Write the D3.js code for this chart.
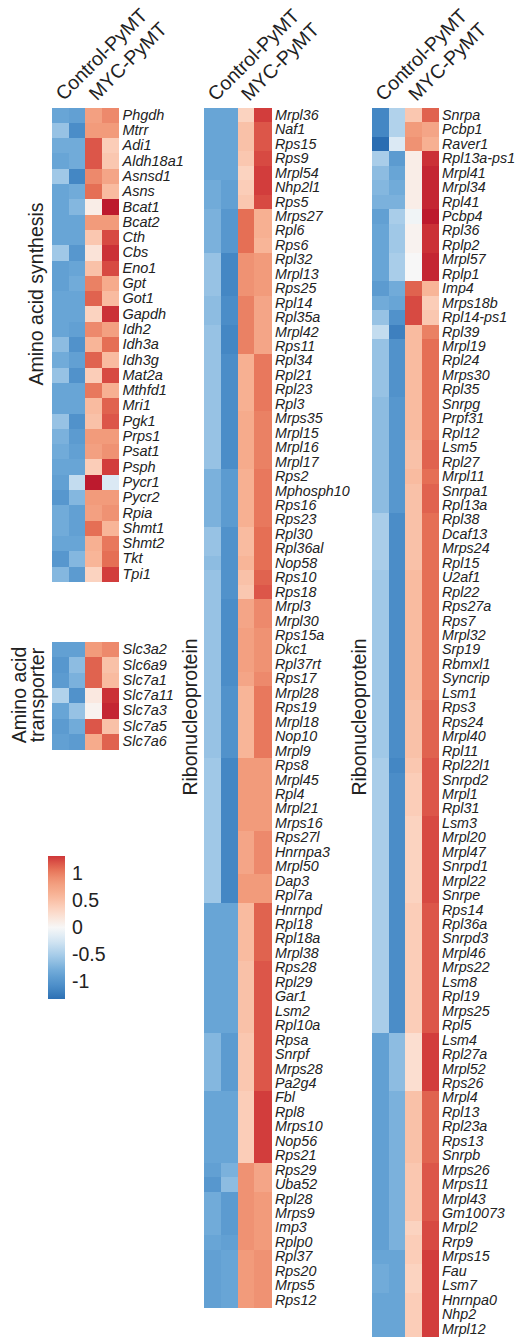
<!DOCTYPE html>
<html><head><meta charset="utf-8">
<script src="https://cdn.jsdelivr.net/npm/d3@7"></script>
<style>
html,body{margin:0;padding:0;background:#fff;}
svg{display:block;font-family:"Liberation Sans",Arial,Helvetica,sans-serif;}
</style></head>
<body>
<svg id="chart" width="516" height="1339"></svg>
<script>
// ---------- DATA ----------
const groups = ["Control-PyMT", "MYC-PyMT"];
const samples = ["Ctrl1", "Ctrl2", "MYC1", "MYC2"];
const legendTicks = [1, 0.5, 0, -0.5, -1];

const synthGenes = ["Phgdh","Mtrr","Adi1","Aldh18a1","Asnsd1","Asns","Bcat1","Bcat2","Cth","Cbs","Eno1","Gpt","Got1","Gapdh","Idh2","Idh3a","Idh3g","Mat2a","Mthfd1","Mri1","Pgk1","Prps1","Psat1","Psph","Pycr1","Pycr2","Rpia","Shmt1","Shmt2","Tkt","Tpi1"];
const synthValues = [
[-0.85,-0.9,0.8,0.95],[-0.6,-1.1,0.85,0.85],[-0.8,-0.8,1.2,0.4],[-0.85,-0.8,1.2,0.45],
[-0.55,-1.15,0.95,0.75],[-0.85,-0.8,1.1,0.55],[-0.85,-0.7,0.1,1.45],[-0.85,-0.85,0.85,0.85],
[-0.85,-0.85,0.45,1.25],[-0.55,-1.0,0.2,1.35],[-0.9,-0.85,0.5,1.25],[-0.9,-0.8,1.0,0.7],
[-0.85,-0.85,1.15,0.55],[-0.85,-0.85,0.35,1.35],[-0.85,-0.9,0.95,0.8],[-0.65,-1.05,0.6,1.1],
[-0.8,-0.9,1.15,0.55],[-0.6,-1.05,0.4,1.25],[-0.85,-0.85,1.05,0.65],[-0.85,-0.85,0.55,1.15],
[-0.6,-1.05,0.5,1.2],[-0.75,-0.95,0.85,0.85],[-0.8,-0.9,0.8,0.9],[-0.85,-0.85,0.4,1.3],
[-0.9,-0.35,1.45,-0.2],[-1.0,-0.7,0.85,0.85],[-0.8,-0.9,0.8,0.9],[-0.8,-0.9,1.1,0.6],
[-0.85,-0.85,0.65,1.05],[-1.0,-0.7,0.6,1.1],[-0.7,-0.95,0.35,1.3]
];

const transGenes = ["Slc3a2","Slc6a9","Slc7a1","Slc7a11","Slc7a3","Slc7a5","Slc7a6"];
const transValues = [
[-0.9,-0.9,0.85,0.95],[-1.0,-0.65,1.15,0.5],[-0.95,-0.75,1.15,0.55],[-0.45,-1.05,0.15,1.35],
[-0.85,-0.6,0.05,1.4],[-0.95,-0.8,1.2,0.5],[-0.9,-0.95,0.7,1.15]
];

const rnpGenesA = ["Mrpl36","Naf1","Rps15","Rps9","Mrpl54","Nhp2l1","Rps5","Mrps27","Rpl6","Rps6","Rpl32","Mrpl13","Rps25","Rpl14","Rpl35a","Mrpl42","Rps11","Rpl34","Rpl21","Rpl23","Rpl3","Mrps35","Mrpl15","Mrpl16","Mrpl17","Rps2","Mphosph10","Rps16","Rps23","Rpl30","Rpl36al","Nop58","Rps10","Rps18","Mrpl3","Mrpl30","Rps15a","Dkc1","Rpl37rt","Rps17","Mrpl28","Rps19","Mrpl18","Nop10","Mrpl9","Rps8","Mrpl45","Rpl4","Mrpl21","Mrps16","Rps27l","Hnrnpa3","Mrpl50","Dap3","Rpl7a","Hnrnpd","Rpl18","Rpl18a","Mrpl38","Rps28","Rpl29","Gar1","Lsm2","Rpl10a","Rpsa","Snrpf","Mrps28","Pa2g4","Fbl","Rpl8","Mrps10","Nop56","Rps21","Rps29","Uba52","Rpl28","Mrps9","Imp3","Rplp0","Rpl37","Rps20","Mrps5","Rps12"];
const rnpValuesA = [
[-0.85,-0.85,0.35,1.3],[-0.85,-0.85,0.5,1.2],[-0.85,-0.85,0.5,1.2],[-0.85,-0.85,0.45,1.25],
[-0.85,-0.85,0.35,1.3],[-0.8,-0.9,0.4,1.3],[-0.8,-0.9,0.45,1.25],[-0.75,-1.0,1.1,0.65],
[-0.75,-1.0,1.1,0.65],[-0.75,-1.0,1.1,0.6],[-0.6,-1.15,0.9,0.85],[-0.6,-1.15,0.9,0.85],
[-0.6,-1.15,0.9,0.85],[-0.65,-1.1,1.0,0.75],[-0.65,-1.1,1.0,0.75],[-0.6,-1.15,1.0,0.75],
[-0.6,-1.15,1.0,0.75],[-0.6,-1.1,0.65,1.05],[-0.6,-1.1,0.65,1.05],[-0.6,-1.1,0.65,1.05],
[-0.6,-1.1,0.65,1.05],[-0.6,-1.1,0.7,1.0],[-0.6,-1.1,0.7,1.0],[-0.6,-1.1,0.7,1.0],
[-0.6,-1.1,0.7,1.0],[-0.75,-0.95,0.65,1.05],[-0.75,-0.95,0.65,1.05],[-0.75,-0.95,0.65,1.05],
[-0.75,-0.95,0.65,1.05],[-0.6,-1.05,0.55,1.1],[-0.6,-1.05,0.55,1.1],[-0.65,-1.05,0.6,1.1],
[-0.6,-1.05,0.5,1.15],[-0.6,-1.05,0.45,1.2],[-0.6,-1.1,0.75,0.95],[-0.6,-1.1,0.75,0.95],
[-0.6,-1.1,0.8,0.9],[-0.6,-1.1,0.8,0.9],[-0.6,-1.1,0.8,0.9],[-0.6,-1.1,0.75,0.95],
[-0.6,-1.05,0.6,1.05],[-0.6,-1.05,0.6,1.05],[-0.6,-1.05,0.6,1.05],[-0.6,-1.05,0.6,1.05],
[-0.6,-1.05,0.6,1.05],[-0.55,-1.15,0.85,0.85],[-0.55,-1.15,0.85,0.85],[-0.55,-1.15,0.85,0.85],
[-0.55,-1.15,0.85,0.85],[-0.55,-1.15,0.85,0.85],[-0.55,-1.15,0.75,0.95],[-0.55,-1.15,0.75,0.95],
[-0.55,-1.15,0.75,0.95],[-0.55,-1.15,0.85,0.85],[-0.55,-1.15,0.85,0.85],[-0.85,-0.85,0.55,1.15],
[-0.85,-0.85,0.55,1.15],[-0.85,-0.85,0.55,1.15],[-0.85,-0.85,0.55,1.15],[-0.85,-0.85,0.5,1.2],
[-0.85,-0.85,0.5,1.2],[-0.85,-0.85,0.5,1.2],[-0.85,-0.85,0.5,1.2],[-0.85,-0.85,0.5,1.2],
[-0.7,-0.95,0.45,1.2],[-0.7,-0.95,0.45,1.2],[-0.7,-0.95,0.45,1.2],[-0.7,-0.95,0.45,1.2],
[-0.85,-0.85,0.4,1.3],[-0.85,-0.85,0.4,1.3],[-0.85,-0.85,0.4,1.3],[-0.85,-0.85,0.4,1.3],
[-0.85,-0.85,0.4,1.3],[-0.9,-0.75,0.9,0.75],[-1.0,-0.65,0.9,0.75],[-0.8,-0.95,0.9,0.85],
[-0.8,-0.95,0.9,0.85],[-0.8,-0.95,0.9,0.85],[-0.85,-0.9,0.9,0.85],[-0.9,-0.85,0.85,0.9],
[-0.9,-0.85,0.85,0.9],[-0.9,-0.85,0.85,0.9],[-0.9,-0.85,0.85,0.9]
];

const rnpGenesB = ["Snrpa","Pcbp1","Raver1","Rpl13a-ps1","Mrpl41","Mrpl34","Rpl41","Pcbp4","Rpl36","Rplp2","Mrpl57","Rplp1","Imp4","Mrps18b","Rpl14-ps1","Rpl39","Mrpl19","Rpl24","Mrps30","Rpl35","Snrpg","Prpf31","Rpl12","Lsm5","Rpl27","Mrpl11","Snrpa1","Rpl13a","Rpl38","Dcaf13","Mrps24","Rpl15","U2af1","Rpl22","Rps27a","Rps7","Mrpl32","Srp19","Rbmxl1","Syncrip","Lsm1","Rps3","Rps24","Mrpl40","Rpl11","Rpl22l1","Snrpd2","Mrpl1","Rpl31","Lsm3","Mrpl20","Mrpl47","Snrpd1","Mrpl22","Snrpe","Rps14","Rpl36a","Snrpd3","Mrpl46","Mrps22","Lsm8","Rpl19","Mrps25","Rpl5","Lsm4","Rpl27a","Mrpl52","Rps26","Mrpl4","Rpl13","Rpl23a","Rps13","Snrpb","Mrps26","Mrps11","Mrpl43","Gm10073","Mrpl2","Rrp9","Mrps15","Fau","Lsm7","Hnrnpa0","Nhp2","Mrpl12"];
const rnpValuesB = [
[-1.15,-0.45,0.45,1.15],[-1.15,-0.45,0.85,0.75],[-1.35,-0.2,0.9,0.65],[-0.5,-0.95,0.1,1.35],
[-0.65,-0.85,0.1,1.4],[-0.7,-0.8,0.1,1.4],[-0.75,-0.75,0.1,1.4],[-0.9,-0.5,-0.05,1.45],
[-0.85,-0.55,0.05,1.35],[-0.85,-0.55,0.05,1.35],[-0.85,-0.5,0.0,1.4],[-0.85,-0.5,0.0,1.4],
[-0.95,-0.8,1.15,0.6],[-0.8,-0.85,1.25,0.4],[-0.6,-1.05,1.25,0.45],[-0.35,-1.2,0.55,1.0],
[-0.6,-1.05,0.55,1.1],[-0.6,-1.05,0.55,1.1],[-0.6,-1.05,0.55,1.1],[-0.6,-1.05,0.55,1.1],
[-0.65,-1.0,0.55,1.1],[-0.65,-1.0,0.55,1.1],[-0.65,-1.0,0.55,1.1],[-0.65,-1.0,0.5,1.15],
[-0.65,-1.0,0.5,1.15],[-0.65,-1.0,0.55,1.1],[-0.65,-1.0,0.5,1.15],[-0.65,-1.0,0.5,1.15],
[-0.5,-1.1,0.5,1.1],[-0.5,-1.1,0.5,1.1],[-0.5,-1.1,0.5,1.1],[-0.5,-1.1,0.5,1.1],
[-0.55,-1.1,0.55,1.1],[-0.55,-1.1,0.55,1.1],[-0.55,-1.1,0.55,1.1],[-0.55,-1.1,0.55,1.1],
[-0.55,-1.1,0.55,1.1],[-0.55,-1.1,0.55,1.1],[-0.55,-1.1,0.55,1.1],[-0.55,-1.1,0.55,1.1],
[-0.55,-1.1,0.55,1.1],[-0.55,-1.1,0.5,1.15],[-0.55,-1.1,0.5,1.15],[-0.55,-1.1,0.5,1.15],
[-0.55,-1.1,0.5,1.15],[-0.5,-1.15,0.45,1.2],[-0.5,-1.1,0.4,1.2],[-0.5,-1.1,0.4,1.2],
[-0.5,-1.1,0.4,1.2],[-0.5,-1.1,0.35,1.25],[-0.5,-1.1,0.35,1.25],[-0.5,-1.1,0.35,1.25],
[-0.5,-1.1,0.35,1.25],[-0.5,-1.1,0.35,1.25],[-0.5,-1.1,0.35,1.25],[-0.5,-1.1,0.4,1.2],
[-0.5,-1.1,0.4,1.2],[-0.5,-1.1,0.4,1.2],[-0.5,-1.1,0.4,1.2],[-0.5,-1.1,0.4,1.2],
[-0.5,-1.1,0.4,1.2],[-0.5,-1.1,0.4,1.2],[-0.5,-1.1,0.4,1.2],[-0.5,-1.1,0.4,1.2],
[-0.9,-0.65,0.25,1.3],[-0.9,-0.65,0.25,1.3],[-0.9,-0.65,0.25,1.3],[-0.9,-0.65,0.25,1.3],
[-0.9,-0.75,0.5,1.15],[-0.9,-0.75,0.5,1.15],[-0.9,-0.75,0.5,1.15],[-0.9,-0.75,0.5,1.15],
[-0.9,-0.75,0.5,1.15],[-0.9,-0.75,0.45,1.2],[-0.9,-0.75,0.45,1.2],[-0.9,-0.75,0.45,1.2],
[-0.9,-0.75,0.45,1.2],[-0.9,-0.75,0.35,1.25],[-0.9,-0.75,0.4,1.25],[-0.85,-0.85,0.4,1.3],
[-0.8,-0.85,0.35,1.3],[-0.8,-0.85,0.35,1.3],[-0.85,-0.85,0.4,1.3],[-0.85,-0.85,0.4,1.3],
[-0.85,-0.85,0.4,1.3]
];

// ---------- STYLE ----------
const color = d3.scaleLinear()
  .domain([-1.35,-1.1,-0.85,-0.55,-0.25,0,0.3,0.6,0.85,1.1,1.3,1.45])
  .range(["#2a6db2","#4b8dc8","#68a5d6","#a0c8e7","#d4e6f3","#f7f7f7","#fcd9c8","#f8b598","#f29b7b","#e56f55","#d23d3c","#bd1a2e"])
  .clamp(true);

const svg = d3.select("#chart");
const FONT_BIG = 19.5;
const txtCol = "#222";

function heatmap(genes, values, x0, x1, y0, rowH, fontSize, labelGap) {
  const g = svg.append("g");
  const x = d3.scaleBand().domain(samples).range([x0, x1]);
  const y = d3.scaleBand().domain(genes).range([y0, y0 + rowH * genes.length]);
  genes.forEach((gene, i) => {
    values[i].forEach((v, j) => {
      g.append("rect")
        .attr("x", x(samples[j]))
        .attr("y", y(gene))
        .attr("width", x.bandwidth() + 0.5)
        .attr("height", y.bandwidth() + 0.5)
        .attr("fill", color(v))
        .attr("shape-rendering", "crispEdges");
    });
  });
  const axis = d3.axisRight(y).tickSize(0).tickPadding(labelGap);
  const ax = g.append("g").attr("transform", `translate(${x1},0)`).call(axis);
  ax.select(".domain").remove();
  ax.selectAll("text")
    .attr("font-size", fontSize)
    .attr("font-style", "italic")
    .attr("font-family", '"Liberation Sans",Arial,sans-serif')
    .attr("fill", txtCol);
  return {x, y};
}

function colHeaders(x, yTop) {
  const centers = [
    (x(samples[0]) + x(samples[1]) + x.bandwidth()) / 2,
    (x(samples[2]) + x(samples[3]) + x.bandwidth()) / 2
  ];
  groups.forEach((gname, i) => {
    const cx = centers[i] - 5, cy = yTop - 6;
    svg.append("text")
      .attr("transform", `translate(${cx},${cy}) rotate(-45)`)
      .attr("font-size", FONT_BIG)
      .attr("fill", txtCol)
      .text(gname);
  });
}

function vlabel(lines, xBase, yc) {
  lines.forEach((t, i) => {
    svg.append("text")
      .attr("transform", `translate(${xBase[i]},${yc}) rotate(-90)`)
      .attr("text-anchor", "middle")
      .attr("font-size", FONT_BIG)
      .attr("fill", txtCol)
      .text(t);
  });
}

// Left panels
const hs = heatmap(synthGenes, synthValues, 52, 118.5, 107.5, 15.3, 14.5, 4);
heatmap(transGenes, transValues, 52, 118.5, 642, 15.3, 14.5, 4);
colHeaders(hs.x, 107.5);
vlabel(["Amino acid synthesis"], [43], 294);
vlabel(["Amino acid", "transporter"], [26, 44], 695);

// Middle panel
const hm = heatmap(rnpGenesA, rnpValuesA, 204, 271, 108, 14.45, 14.3, 4);
colHeaders(hm.x, 108);
vlabel(["Ribonucleoprotein"], [197], 717);

// Right panel
const hr = heatmap(rnpGenesB, rnpValuesB, 372, 438, 108, 14.45, 14.3, 4);
colHeaders(hr.x, 108);
vlabel(["Ribonucleoprotein"], [366], 717);

// Colour legend
const lg = svg.append("g");
const legY = d3.scaleLinear().domain([-1.33, 1.33]).range([999, 856]);
const defs = svg.append("defs");
const grad = defs.append("linearGradient").attr("id", "lgrad")
  .attr("x1", 0).attr("y1", 1).attr("x2", 0).attr("y2", 0);
d3.range(0, 1.0001, 0.05).forEach(t => {
  const v = -1.33 + t * 2.66;
  grad.append("stop").attr("offset", t).attr("stop-color", color(v));
});
lg.append("rect")
  .attr("x", 48).attr("y", legY(1.33))
  .attr("width", 17).attr("height", legY(-1.33) - legY(1.33))
  .attr("fill", "url(#lgrad)");
const legAxis = d3.axisRight(legY).tickValues(legendTicks).tickSize(0).tickPadding(7)
  .tickFormat(d => String(d));
const la = lg.append("g").attr("transform", "translate(65,0)").call(legAxis);
la.select(".domain").remove();
la.selectAll("text").attr("font-size", FONT_BIG).attr("fill", txtCol)
  .attr("font-family", '"Liberation Sans",Arial,sans-serif');
</script>
</body></html>
